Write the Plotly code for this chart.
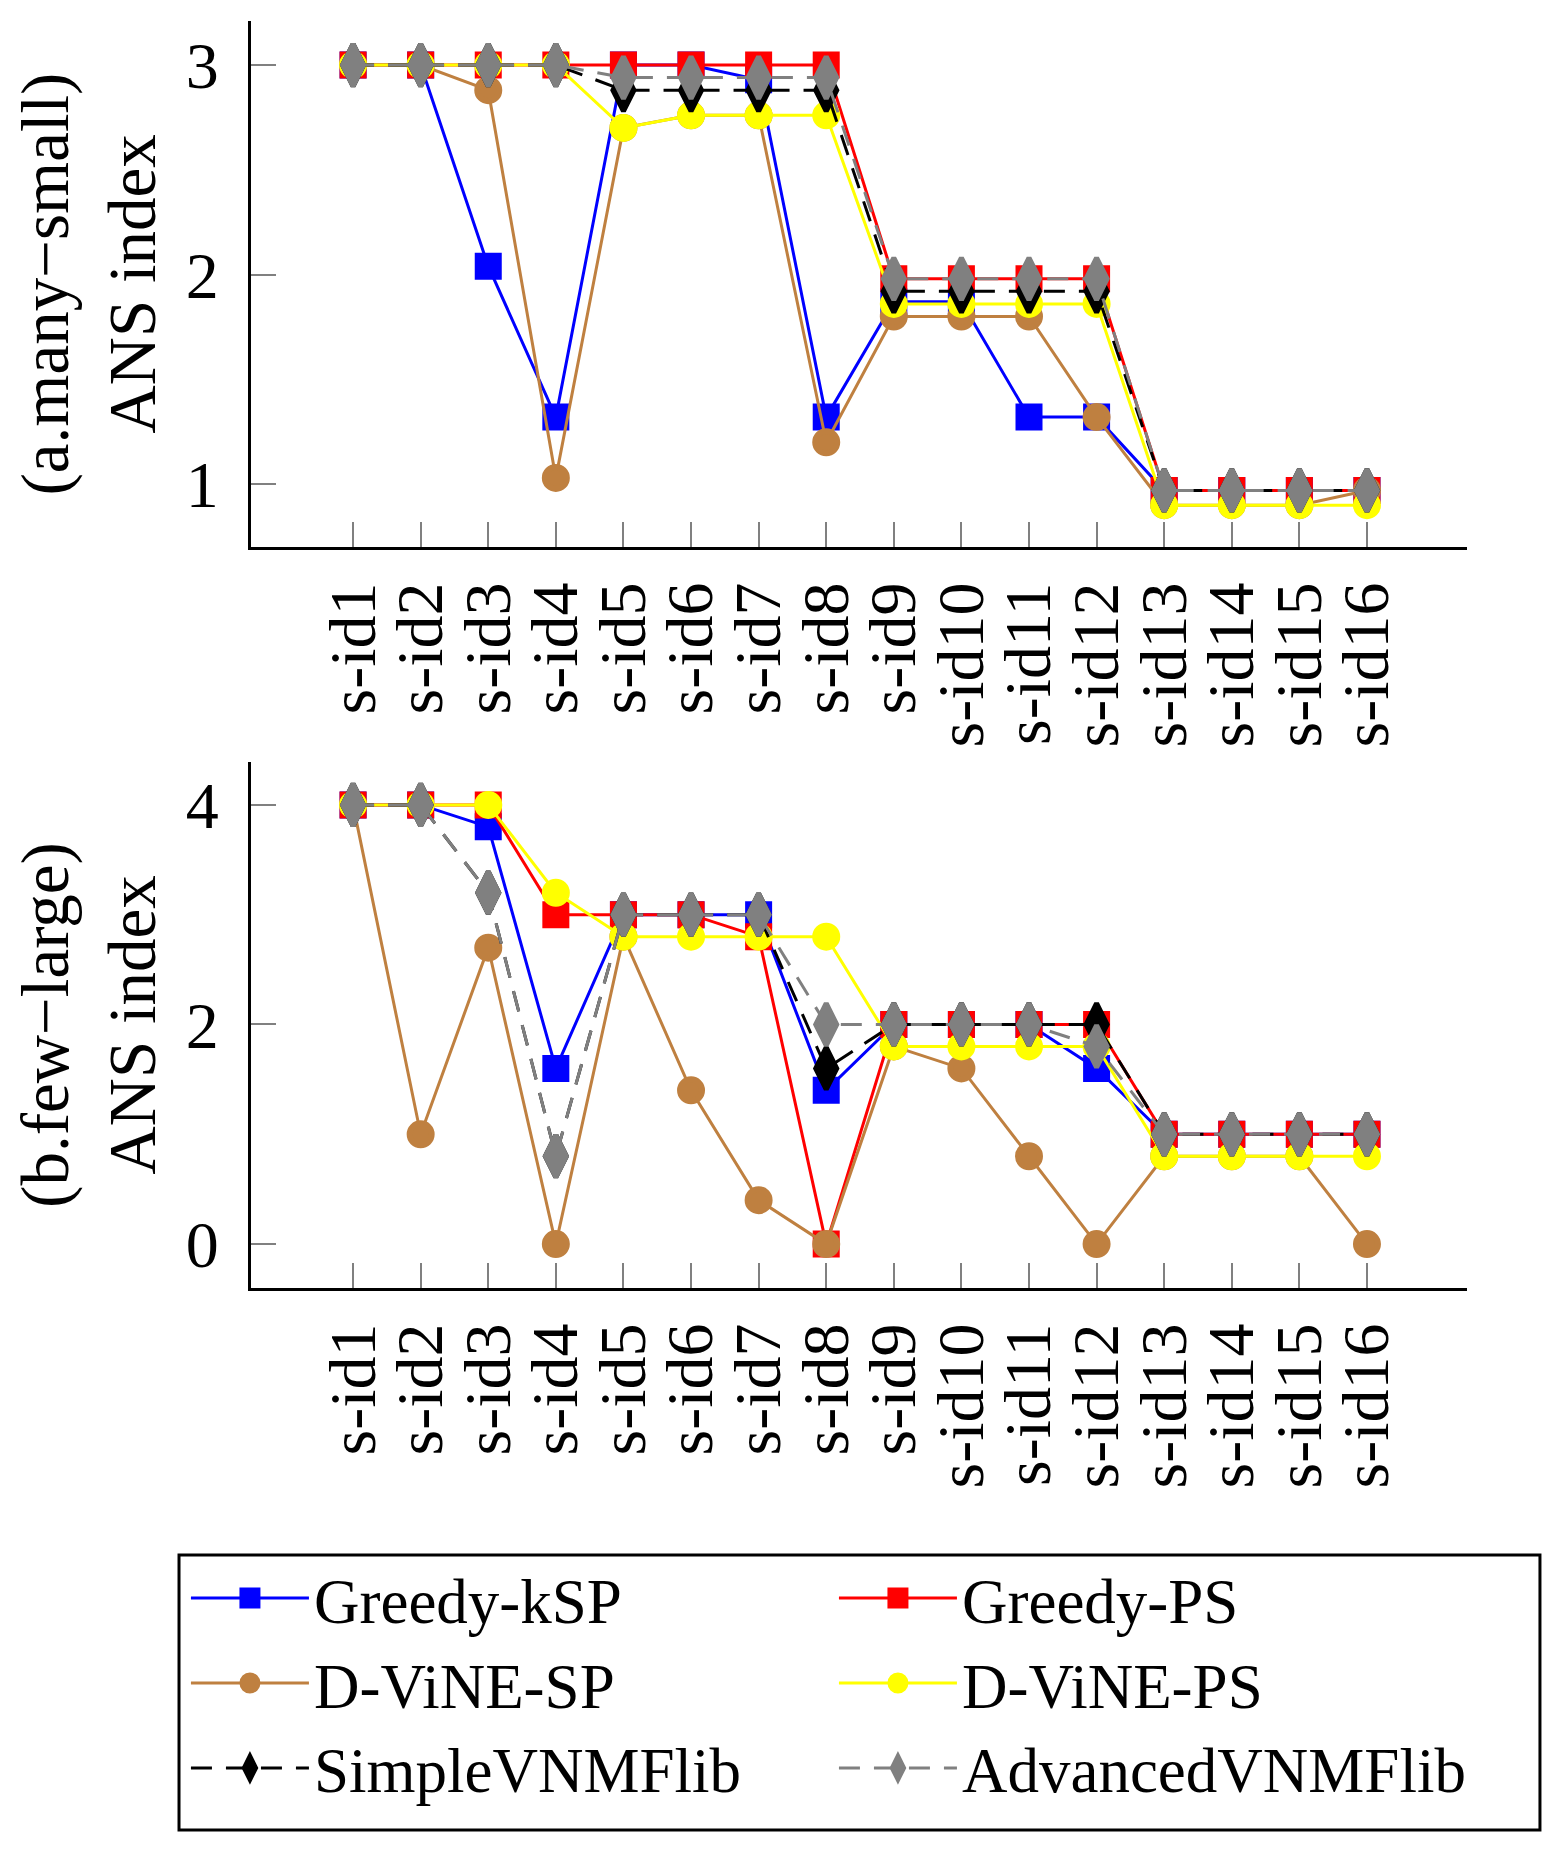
import plotly.graph_objects as go
from plotly.subplots import make_subplots

sids = ["s-id1", "s-id2", "s-id3", "s-id4", "s-id5", "s-id6", "s-id7", "s-id8",
        "s-id9", "s-id10", "s-id11", "s-id12", "s-id13", "s-id14", "s-id15", "s-id16"]

# (a) many-small
greedy_ksp_a = [3, 3, 2.04, 1.32, 3, 3, 2.93, 1.32, 1.87, 1.87, 1.32, 1.32, 0.97, 0.97, 0.97, 0.97]
greedy_ps_a = [3, 3, 3, 3, 3, 3, 3, 3, 1.98, 1.98, 1.98, 1.98, 0.97, 0.97, 0.97, 0.97]
dvine_sp_a = [3, 3, 2.88, 1.03, 2.70, 2.76, 2.76, 1.20, 1.80, 1.80, 1.80, 1.32, 0.90, 0.90, 0.90, 0.97]
dvine_ps_a = [3, 3, 3, 3, 2.70, 2.76, 2.76, 2.76, 1.86, 1.86, 1.86, 1.86, 0.90, 0.90, 0.90, 0.90]
simple_a = [3, 3, 3, 3, 2.88, 2.88, 2.88, 2.88, 1.92, 1.92, 1.92, 1.92, 0.97, 0.97, 0.97, 0.97]
advanced_a = [3, 3, 3, 3, 2.94, 2.94, 2.94, 2.94, 1.98, 1.98, 1.98, 1.98, 0.97, 0.97, 0.97, 0.97]

# (b) few-large
greedy_ksp_b = [4, 4, 3.8, 1.6, 3, 3, 3, 1.4, 2, 2, 2, 1.6, 1, 1, 1, 1]
greedy_ps_b = [4, 4, 4, 3, 3, 3, 2.8, 0, 2, 2, 2, 2, 1, 1, 1, 1]
dvine_sp_b = [4, 1, 2.7, 0, 2.8, 1.4, 0.4, 0, 1.8, 1.6, 0.8, 0, 0.8, 0.8, 0.8, 0]
dvine_ps_b = [4, 4, 4, 3.2, 2.8, 2.8, 2.8, 2.8, 1.8, 1.8, 1.8, 1.8, 0.8, 0.8, 0.8, 0.8]
simple_b = [4, 4, 3.2, 0.8, 3, 3, 3, 1.6, 2, 2, 2, 2, 1, 1, 1, 1]
advanced_b = [4, 4, 3.2, 0.8, 3, 3, 3, 2, 2, 2, 2, 1.8, 1, 1, 1, 1]

FONT = "Liberation Serif"

# name, data (a), data (b), colour, symbol, size, outline, dash
series = [
    ("Greedy-kSP", greedy_ksp_a, greedy_ksp_b, "#0000ff", "square", 21, 6, "solid"),
    ("Greedy-PS", greedy_ps_a, greedy_ps_b, "#ff0000", "square", 21, 6, "solid"),
    ("D-ViNE-SP", dvine_sp_a, dvine_sp_b, "#bf8040", "circle", 22, 6, "solid"),
    ("D-ViNE-PS", dvine_ps_a, dvine_ps_b, "#ffff00", "circle", 22, 6, "solid"),
    ("SimpleVNMFlib", simple_a, simple_b, "#000000", "diamond-tall", 30, 5, "21px,14px"),
    ("AdvancedVNMFlib", advanced_a, advanced_b, "#808080", "diamond-tall", 30, 5, "21px,14px"),
]

fig = make_subplots(rows=2, cols=1, vertical_spacing=0.17)

for name, ya, yb, color, symbol, size, outline, dash in series:
    for row, y in ((1, ya), (2, yb)):
        fig.add_trace(go.Scatter(
            x=sids, y=y, name=name, legendgroup=name, showlegend=(row == 1),
            mode="lines+markers",
            line=dict(color=color, width=3, dash=dash),
            marker=dict(symbol=symbol, size=size, color=color,
                        line=dict(color=color, width=outline)),
        ), row=row, col=1)

axis_common = dict(
    showline=True, linecolor="black", linewidth=3, mirror=False,
    showgrid=False, zeroline=False,
    ticks="inside", ticklen=25, tickwidth=1.5, tickcolor="#808080",
    tickfont=dict(family=FONT, size=66, color="black"),
)

fig.update_xaxes(**axis_common, tickangle=-90, range=[-1.51, 16.48],
                 tickmode="linear", tick0=0, dtick=1, ticklabelstandoff=6)
fig.update_yaxes(**axis_common, ticklabelstandoff=16)

fig.update_yaxes(row=1, col=1, range=[0.70, 3.21], tickvals=[1, 2, 3],
                 title=dict(text="(a.many\u2212small)<br>ANS index", standoff=28,
                            font=dict(family=FONT, size=67, color="black")))
fig.update_yaxes(row=2, col=1, range=[-0.40, 4.39], tickvals=[0, 2, 4],
                 title=dict(text="(b.few\u2212large)<br>ANS index", standoff=28,
                            font=dict(family=FONT, size=67, color="black")))

# legend frame drawn separately so it can be wider than the entries
fig.add_shape(type="rect", xref="paper", yref="paper",
              x0=-0.0592, x1=1.060, y0=-0.4278, y1=-0.2107,
              line=dict(color="black", width=3), fillcolor="white", layer="below")

fig.update_layout(
    width=1558, height=1853,
    margin=dict(l=243, r=99, t=13, b=573),
    paper_bgcolor="white", plot_bgcolor="white",
    yaxis=dict(domain=[0.5848, 1.0]),
    yaxis2=dict(domain=[0.0, 0.4151]),
    font=dict(family=FONT, size=66, color="black"),
    legend=dict(
        orientation="h", x=-0.0535, xanchor="left", y=-0.2073, yanchor="top",
        borderwidth=0, bgcolor="rgba(0,0,0,0)",
        font=dict(family=FONT, size=63, color="black"),
        itemwidth=118, entrywidthmode="pixels", entrywidth=515,
        traceorder="normal",
    ),
)

fig.write_html("out.html")
